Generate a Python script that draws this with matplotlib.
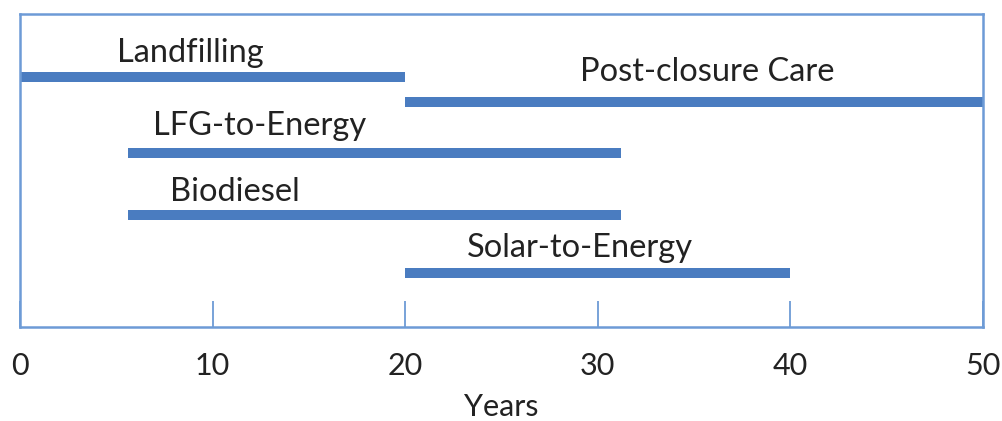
import matplotlib.pyplot as plt

# phases of the landfill timeline (years)
phases = ['Landfilling', 'Post-closure Care', 'LFG-to-Energy', 'Biodiesel', 'Solar-to-Energy']
starts = [0, 20, 5.6, 5.6, 20]
ends = [20, 50, 31.2, 31.2, 40]
lanes = [7.99, 7.19, 5.56, 3.58, 1.73]       # vertical lane of each bar
label_x = [5.04, 29.1, 6.9, 7.8, 23.2]       # label left edge (years)
label_y = [8.47, 7.86, 6.13, 4.03, 2.24]     # label baseline (lane units)

xticks = [0, 10, 20, 30, 40, 50]

bar_col = '#4a7cc0'
spine_col = '#6d9bd6'
txt_col = '#222222'

plt.rcParams['font.family'] = ['Lato', 'DejaVu Sans']

fig = plt.figure(figsize=(10.02, 4.21), dpi=100)
ax = fig.add_axes([20/1002, 1 - 327/421, (983-20)/1002, (327-14)/421])

for s, e, y in zip(starts, ends, lanes):
    ax.plot([s, e], [y, y], color=bar_col, lw=7.2, solid_capstyle='butt', clip_on=False)

for name, x, y in zip(phases, label_x, label_y):
    ax.text(x, y, name, ha='left', va='baseline', fontsize=23.5, color=txt_col)

ax.set_xlim(0, 50)
ax.set_ylim(0, 10)
ax.set_yticks([])
ax.set_xticks(xticks)
ax.set_xticklabels([str(t) for t in xticks], fontsize=22, color=txt_col)
ax.tick_params(axis='x', direction='in', length=19, width=1.3, color=spine_col, pad=18)
for sp in ax.spines.values():
    sp.set_color(spine_col)
    sp.set_linewidth(1.8)
ax.set_xlabel('Years', fontsize=22, color=txt_col, labelpad=9)

fig.savefig('out.png', dpi=100)
